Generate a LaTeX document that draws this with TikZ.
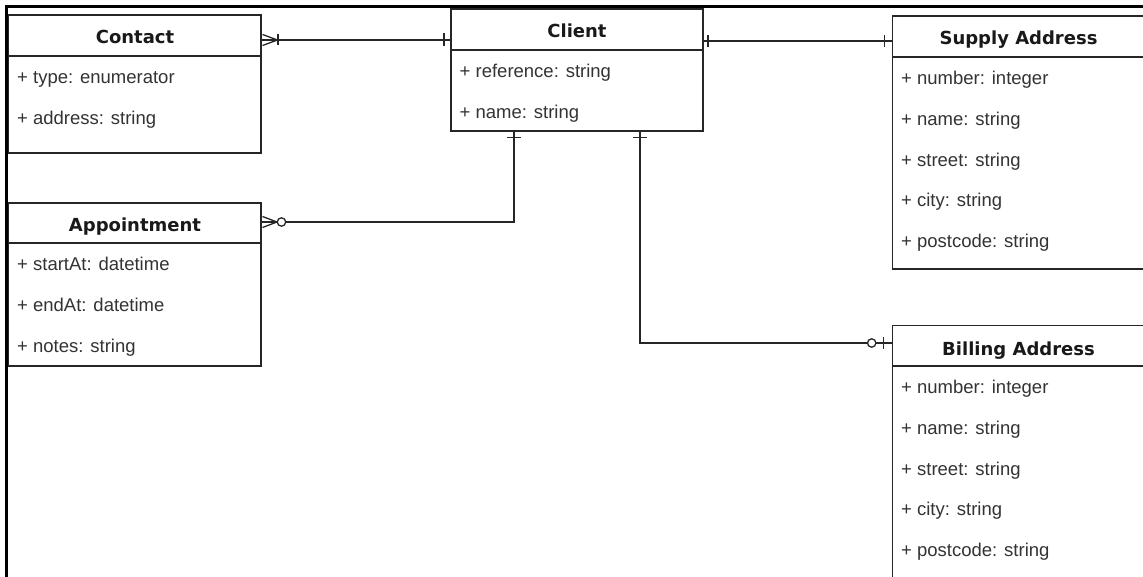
\documentclass[tikz,border=0pt]{standalone}
\usepackage{fontspec}
\setmainfont{Liberation Sans}
\newfontfamily\ttlfont{DejaVu Sans}
\begin{document}
\begin{tikzpicture}[x=1pt,y=-1pt,
  ln/.style={draw=black!85, line width=1.3pt},
  box/.style={ln, anchor=north west, inner sep=0pt, outer sep=0pt, fill=white},
  ttl/.style={font=\ttlfont\bfseries\fontsize{18}{20}\selectfont, text=black!90, anchor=base, inner sep=0pt},
  attr/.style={font=\fontsize{18.5}{20}\selectfont, text=black!80, anchor=base west, inner sep=0pt},
  frame/.style={draw=black, line width=3pt},
  bar/.style={ln},
  crow/.style={ln},
  zero/.style={ln, fill=white}
]
\clip (0,0) rectangle (1143,577);
\fill[white] (0,0) rectangle (1143,577);
\draw[frame] (6.5,580) -- (6.5,6.5) -- (1146,6.5);

% Contact
\node[box, minimum width=252.5pt, minimum height=138pt] (contact) at (8.5,15) {};
\draw[ln] (contact.north west) ++(0,41) -- ++(252.5,0);
\node[ttl] (contactT) at (135,44) {Contact};
\node[attr] (contactA1) at (17,83.5) {+ type: enumerator};
\node[attr] (contactA2) at (17,124.3) {+ address: string};

% Client
\node[box, minimum width=252pt, minimum height=122pt] (client) at (451,9) {};
\draw[ln] (client.north west) ++(0,41) -- ++(252,0);
\node[ttl] (clientT) at (577,38) {Client};
\node[attr] (clientA1) at (459.5,77.5) {+ reference: string};
\node[attr] (clientA2) at (459.5,118.3) {+ name: string};

% Supply Address
\node[box, minimum width=252pt, minimum height=253pt] (supply) at (892.5,16) {};
\draw[ln] (supply.north west) ++(0,41) -- ++(252,0);
\node[ttl] (supplyT) at (1018.5,45) {Supply Address};
\node[attr] (supplyA1) at (901,84.5) {+ number: integer};
\node[attr] (supplyA2) at (901,125.3) {+ name: string};
\node[attr] (supplyA3) at (901,166.1) {+ street: string};
\node[attr] (supplyA4) at (901,206.9) {+ city: string};
\node[attr] (supplyA5) at (901,247.7) {+ postcode: string};

% Appointment
\node[box, minimum width=252.5pt, minimum height=163pt] (appt) at (8.5,203) {};
\draw[ln] (appt.north west) ++(0,40) -- ++(252.5,0);
\node[ttl] (apptT) at (135,232) {Appointment};
\node[attr] (apptA1) at (17,270.5) {+ startAt: datetime};
\node[attr] (apptA2) at (17,311.3) {+ endAt: datetime};
\node[attr] (apptA3) at (17,352.1) {+ notes: string};

% Billing Address
\node[box, minimum width=252pt, minimum height=300pt] (billing) at (892.5,325.5) {};
\draw[ln] (billing.north west) ++(0,40.5) -- ++(252,0);
\node[ttl] (billingT) at (1018.5,355) {Billing Address};
\node[attr] (billingA1) at (901,393.5) {+ number: integer};
\node[attr] (billingA2) at (901,434.3) {+ name: string};
\node[attr] (billingA3) at (901,475.1) {+ street: string};
\node[attr] (billingA4) at (901,515.9) {+ city: string};
\node[attr] (billingA5) at (901,556.7) {+ postcode: string};

% Contact -- Client (one or many : one)
\draw[ln] (contact.east |- 0,40) -- (client.west |- 0,40);
\draw[crow] (262.5,34.5) -- (277.5,40) -- (262.5,45.5);
\draw[bar] (278,34.5) -- (278,45.5);
\draw[bar] (444,33.5) -- (444,46.5);

% Client -- Supply (one : one)
\draw[ln] (client.east |- 0,41) -- (supply.west |- 0,41);
\draw[bar] (708,35) -- (708,47);
\draw[bar] (884.5,35) -- (884.5,47);

% Client -- Appointment (one : zero or many)
\draw[ln] (514,0 |- client.south) -- (514,222) -- (appt.east |- 0,222);
\draw[bar] (507,137.5) -- (521,137.5);
\draw[crow] (262.5,216.5) -- (277,222) -- (262.5,227.5);
\draw[zero] (281.5,222) circle (4.2pt);

% Client -- Billing (one : zero or one)
\draw[ln] (640,0 |- client.south) -- (640,343) -- (billing.west |- 0,343);
\draw[bar] (633,137.5) -- (647,137.5);
\draw[zero] (871.7,343) circle (4.2pt);
\draw[bar] (883.5,337) -- (883.5,349);
\end{tikzpicture}
\end{document}
